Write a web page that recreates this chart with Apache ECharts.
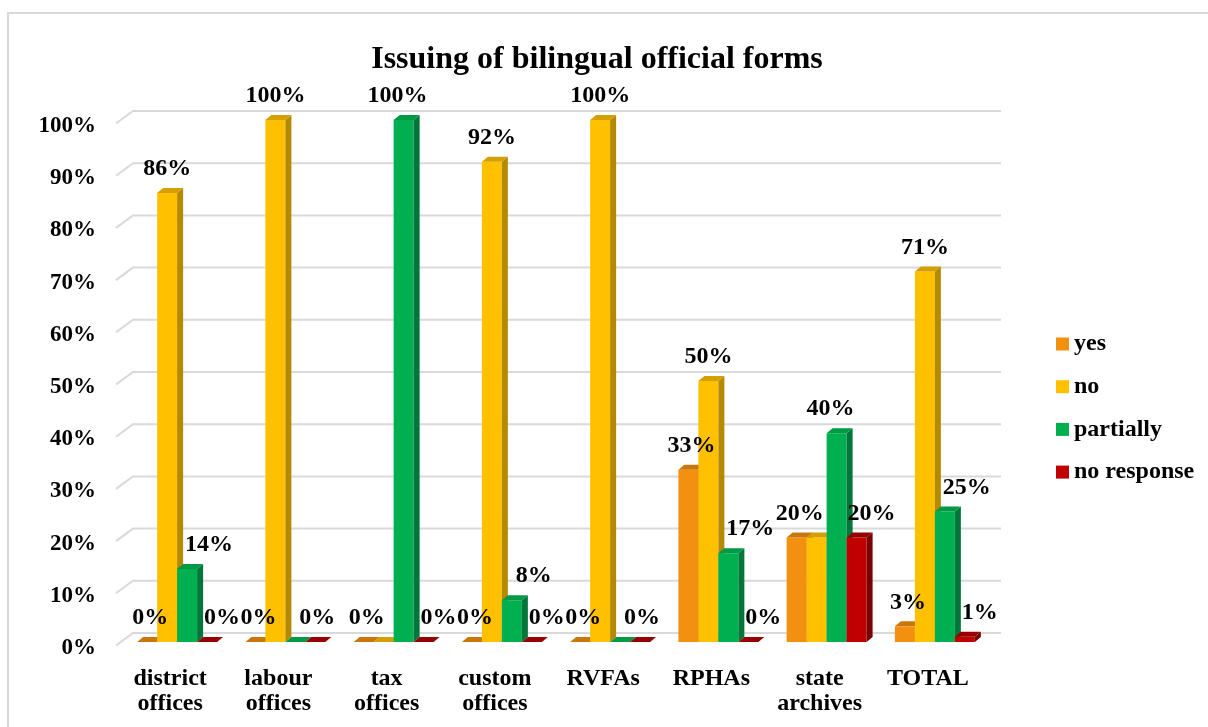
<!DOCTYPE html>
<html>
<head>
<meta charset="utf-8">
<script src="https://cdn.jsdelivr.net/npm/echarts@6/dist/echarts.min.js"></script>
<style>
html,body{margin:0;padding:0;background:#fff;}
#chart{width:1208px;height:727px;}
</style>
</head>
<body>
<div id="chart"></div>
<script>
// ---- data ----
const titleText = 'Issuing of bilingual official forms';
const categories = ['district\noffices', 'labour\noffices', 'tax\noffices', 'custom\noffices', 'RVFAs', 'RPHAs', 'state\narchives', 'TOTAL'];
const seriesNames = ['yes', 'no', 'partially', 'no response'];
const yesValues = [0, 0, 0, 0, 0, 0.33, 0.20, 0.03];
const noValues = [0.86, 1.00, 0, 0.92, 1.00, 0.50, 0.20, 0.71];
const partiallyValues = [0.14, 0, 1.00, 0.08, 0, 0.17, 0.40, 0.25];
const noResponseValues = [0, 0, 0, 0, 0, 0, 0.20, 0.01];
const yTicks = [0, 0.1, 0.2, 0.3, 0.4, 0.5, 0.6, 0.7, 0.8, 0.9, 1.0];

// ---- styles ----
const FONT = '"Liberation Serif", "Times New Roman", serif';
const palette = [
  {front: '#F4900F', side: '#B96C0A', top: '#C9770C'},
  {front: '#FFC000', side: '#B58A00', top: '#D4A000'},
  {front: '#00B050', side: '#00773A', top: '#009A45'},
  {front: '#C00000', side: '#7A0000', top: '#960000'}
];
const allValues = [yesValues, noValues, partiallyValues, noResponseValues];
const BAR_FRAC = 20 / 108.3;   // bar width relative to category width
const DX = 6, DY = 5;          // 3D depth
const LABEL_DX = [3, 0, 22, 15];

function fmt(v) { return Math.round(v * 100) + '%'; }

// decide which labels are visible (hide overlaps, earlier series win)
const labelVisible = allValues.map(a => a.map(() => true));
(function () {
  const shown = [];
  const catW = 108.3, bw = 20, ppu = 522, lh = 22;
  for (let s = 0; s < allValues.length; s++) {
    for (let i = 0; i < categories.length; i++) {
      const v = allValues[s][i];
      const groupMax = Math.max(...allValues.map(a => a[i]));
      let dx = LABEL_DX[s];
      if (s === 2 && v === groupMax) dx = -6;
      const x = i * catW + (s - 1.5) * bw + dx;
      const y = v * ppu;
      const w = fmt(v).length * 11.5 + 5;
      let ok = true;
      for (const o of shown) {
        if (Math.abs(o.x - x) < (o.w + w) / 2 && Math.abs(o.y - y) < lh) { ok = false; break; }
      }
      labelVisible[s][i] = ok;
      if (ok) shown.push({x, y, w});
    }
  }
})();

function barRenderer(s) {
  return function (params, api) {
    const ci = api.value(0), v = api.value(1);
    const top = api.coord([ci, v]);
    const base = api.coord([ci, 0]);
    const bw = api.size([1, 0])[0] * BAR_FRAC;
    const x0 = top[0] + (s - 2) * bw;
    const x1 = x0 + bw;
    const yT = top[1], yB = base[1];
    const c = palette[s];
    const children = [];
    if (yB - yT > 0.5) {
      children.push({type: 'rect', shape: {x: x0, y: yT, width: bw, height: yB - yT}, style: {fill: c.front}});
      children.push({type: 'polygon', shape: {points: [[x1, yT], [x1 + DX, yT - DY], [x1 + DX, yB - DY], [x1, yB]]}, style: {fill: c.side}});
    }
    children.push({type: 'polygon', shape: {points: [[x0, yT], [x1, yT], [x1 + DX, yT - DY], [x0 + DX, yT - DY]]}, style: {fill: c.top}});
    if (labelVisible[s][ci]) {
      const groupMax = Math.max(...allValues.map(a => a[ci]));
      let dx = LABEL_DX[s];
      if (s === 2 && v === groupMax) dx = -6;
      children.push({
        type: 'text', z2: 100,
        style: {
          text: fmt(v), x: x0 + bw / 2 + dx, y: yT - 24,
          align: 'center', verticalAlign: 'middle',
          font: 'bold 24px ' + FONT, fill: '#000'
        }
      });
    }
    return {type: 'group', children};
  };
}

function gridRenderer(params, api) {
  const v = api.value(1);
  const y = api.coord([0, v])[1];
  const cs = params.coordSys;
  return {
    type: 'polyline',
    shape: {points: [[cs.x - 7, y + 3.5], [cs.x + 10, y - 9], [cs.x + cs.width + 12, y - 9]]},
    style: {stroke: '#D9D9D9', lineWidth: 2, fill: null}
  };
}

const series = [{
  type: 'custom', name: '_grid', silent: true, z: 1,
  renderItem: gridRenderer,
  data: yTicks.map(t => [0, t]),
  encode: {x: 0, y: 1}
}];
allValues.forEach((vals, s) => {
  series.push({
    type: 'custom', name: seriesNames[s], z: 2,
    itemStyle: {color: palette[s].front},
    renderItem: barRenderer(s),
    data: vals.map((v, i) => [i, v]),
    encode: {x: 0, y: 1}
  });
});

const chart = echarts.init(document.getElementById('chart'));
chart.setOption({
  backgroundColor: '#fff',
  animation: false,
  title: {
    text: titleText, left: 592, top: 39, textAlign: 'center',
    textStyle: {fontFamily: FONT, fontWeight: 'bold', fontSize: 32, color: '#000'}
  },
  legend: {
    data: seriesNames, orient: 'vertical', left: 1051, top: 327,
    icon: 'rect', itemWidth: 13, itemHeight: 13, itemGap: 18.7,
    textStyle: {fontFamily: FONT, fontWeight: 'bold', fontSize: 24, lineHeight: 23, color: '#000'}
  },
  grid: {left: 123, right: 219, top: 120, bottom: 85},
  xAxis: {
    type: 'category', data: categories,
    axisLine: {show: false}, axisTick: {show: false},
    axisLabel: {
      interval: 0, margin: 24, padding: [0, 14, 0, 0],
      fontFamily: FONT, fontWeight: 'bold', fontSize: 24, lineHeight: 25, color: '#000'
    }
  },
  yAxis: {
    type: 'value', min: 0, max: 1, interval: 0.1,
    axisLine: {show: false}, axisTick: {show: false}, splitLine: {show: false},
    axisLabel: {
      formatter: fmt, margin: 27, verticalAlign: 'top', lineHeight: 12,
      fontFamily: FONT, fontWeight: 'bold', fontSize: 23, color: '#000'
    }
  },
  graphic: [{
    type: 'rect', silent: true, z: -1,
    shape: {x: 8, y: 13, width: 1215, height: 730},
    style: {fill: null, stroke: '#D9D9D9', lineWidth: 2}
  }],
  series: series
});
</script>
</body>
</html>
